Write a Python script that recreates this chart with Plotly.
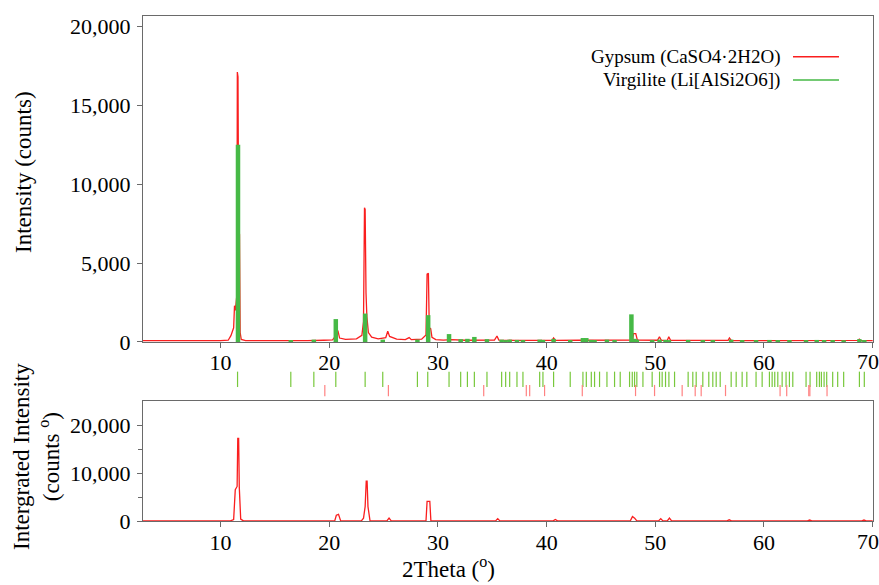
import plotly.graph_objects as go

# ---------------- data ----------------
x_ticks = [10, 20, 30, 40, 50, 60, 70]
x_tick_labels = ["10", "20", "30", "40", "50", "60", ""]   # "70" drawn as an annotation (kept inside page)
last_x_label = "70"
top_y_ticks = [0, 5000, 10000, 15000, 20000]
bottom_y_ticks = [0, 10000, 20000]

# Gypsum observed profile (2Theta, counts)
gyp_x = [2.86, 4.0, 5.0, 6.0, 7.0, 8.0, 9.0, 10.0, 10.7, 10.95, 11.05, 11.2, 11.28, 11.36, 11.5,
         11.54, 11.6, 11.66, 11.74, 11.8, 11.9, 12.3, 13.5, 15.0, 16.5, 18.0, 19.5, 20.3, 20.5,
         20.65, 20.8, 20.95, 21.5, 22.5, 23.0, 23.15, 23.24, 23.3, 23.38, 23.46, 23.6, 23.9, 24.5,
         25.2, 25.38, 25.55, 26.2, 27.0, 27.35, 27.55, 28.5, 28.9, 29.0, 29.12, 29.2, 29.33, 29.45,
         29.8, 30.5, 31.2, 32.5, 33.5, 35.2, 35.43, 35.6, 37.0, 39.0, 40.5, 40.64, 40.8, 43.0, 45.0,
         47.9, 48.0, 48.2, 48.35, 50.2, 50.38, 50.55, 51.1, 51.24, 51.4, 54.0, 56.7, 56.82, 57.0,
         60.0, 63.0, 66.0, 68.65, 68.77, 68.9, 70.0]
gyp_y = [80, 100, 70, 90, 80, 100, 80, 90, 110, 400, 650, 900, 2300, 2000, 3000,
         17100, 16800, 7200, 6800, 600, 160, 90, 80, 90, 100, 80, 110, 130, 300,
         750, 700, 250, 160, 200, 420, 1300, 8500, 8400, 3100, 1600, 600, 300, 200,
         280, 680, 350, 180, 150, 280, 150, 180, 450, 4300, 4350, 900, 850, 300,
         150, 120, 150, 110, 130, 120, 380, 120, 100, 100, 110, 260, 100, 110, 100,
         120, 530, 530, 120, 110, 330, 100, 100, 330, 100, 90, 100, 260, 90,
         90, 100, 90, 100, 180, 90, 90]

# Virgilite calculated peaks (2Theta, counts)
virg_x = [11.6, 16.46, 18.58, 20.6, 23.3, 24.92, 28.11, 29.1, 31.02, 32.09, 32.71, 33.35, 34.51,
          35.86, 36.23, 36.6, 37.27, 37.82, 39.36, 39.66, 40.64, 42.17, 43.34, 43.65, 44.11, 44.41,
          45.55, 46.25, 47.8, 48.09, 48.3, 49.71, 50.39, 50.94, 51.25, 53.02, 54.37, 55.29, 56.98,
          57.99, 59.27, 60.5, 61.27, 62.34, 63.87, 64.85, 65.53, 66.32, 67.33, 68.78, 69.23]
virg_y = [12500, 120, 150, 1450, 1800, 150, 150, 1700, 500, 180, 200, 320, 180,
          150, 120, 150, 130, 120, 150, 130, 200, 120, 250, 250, 130, 120,
          150, 120, 1750, 200, 150, 120, 150, 130, 120, 130, 120, 120, 150,
          120, 120, 130, 120, 120, 120, 130, 120, 120, 110, 180, 120]

# Reflection positions (2Theta)
virg_refl = [11.56, 16.46, 18.58, 20.6, 23.3, 24.92, 28.11, 29.06, 31.02, 32.09, 32.71, 33.35,
             34.51, 35.86, 36.23, 36.6, 37.27, 37.82, 39.36, 39.66, 40.64, 42.17, 43.34, 43.65,
             44.11, 44.41, 44.87, 45.55, 46.25, 46.77, 47.63, 47.88, 48.09, 48.3, 48.86, 49.71,
             50.39, 50.63, 50.94, 51.25, 51.77, 53.02, 53.45, 53.76, 54.37, 54.92, 55.29, 55.6,
             55.97, 56.98, 57.44, 57.99, 58.42, 59.27, 59.83, 60.5, 60.75, 60.99, 61.27, 61.67,
             62.03, 62.34, 62.65, 63.87, 64.24, 64.85, 65.1, 65.28, 65.53, 65.77, 66.32, 66.78,
             67.33, 68.78, 69.23]
gyp_refl = [19.59, 25.44, 34.21, 38.13, 38.44, 39.81, 43.28, 48.18, 49.93, 52.47, 53.67, 54.22,
            56.46, 61.48, 62.09, 64.12, 64.22, 65.8]

# Integrated intensity (2Theta, counts deg)
int_x = [2.86, 10.9, 11.2, 11.35, 11.52, 11.58, 11.66, 11.72, 11.85, 12.1, 20.5, 20.65, 20.85,
         21.05, 22.95, 23.15, 23.3, 23.4, 23.48, 23.56, 23.75, 25.3, 25.5, 25.7, 28.9, 29.0,
         29.25, 29.35, 35.3, 35.5, 35.7, 40.6, 40.8, 41.0, 47.7, 47.9, 48.1, 48.3, 50.3, 50.5,
         50.7, 51.1, 51.3, 51.5, 56.6, 56.8, 57.0, 64.0, 64.2, 64.4, 69.0, 69.2, 69.4, 70.0]
int_y = [20, 20, 300, 6500, 7200, 17200, 17200, 7000, 400, 20, 20, 1200, 1400,
         20, 20, 600, 3000, 8300, 8300, 3000, 20, 20, 600, 20, 20, 4100,
         4100, 20, 20, 500, 20, 20, 300, 20, 20, 950, 600, 20, 20, 500,
         20, 20, 600, 20, 20, 250, 20, 20, 200, 20, 20, 200, 20, 20]

legend_names = ["Gypsum (CaSO4\u00b72H2O)", "Virgilite (Li[AlSi2O6])"]

# ---------------- style ----------------
RED = "rgb(250,30,30)"
GREEN = "rgb(70,185,70)"
TICK_GREEN = "rgb(120,200,60)"
TICK_RED = "rgb(255,130,130)"
AXC = "#6a6a6a"
FONT = "Liberation Serif"

fig = go.Figure()

fig.add_trace(go.Scatter(x=gyp_x, y=gyp_y, mode="lines", line=dict(color=RED, width=1.3),
                         xaxis="x", yaxis="y", showlegend=False, name=legend_names[0]))

# Virgilite sticks as vertical segments built from the data
vx, vy = [], []
for px, py in zip(virg_x, virg_y):
    vx += [px, px, None]
    vy += [0, py, None]
fig.add_trace(go.Scatter(x=vx, y=vy, mode="lines", line=dict(color=GREEN, width=4.5),
                         xaxis="x", yaxis="y", showlegend=False, name=legend_names[1]))

# Reflection markers
fig.add_trace(go.Scatter(x=virg_refl, y=[0.68] * len(virg_refl), mode="markers",
                         marker=dict(symbol="line-ns", size=11, line=dict(color=TICK_GREEN, width=1.2)),
                         xaxis="x2", yaxis="y2", showlegend=False))
fig.add_trace(go.Scatter(x=gyp_refl, y=[0.25] * len(gyp_refl), mode="markers",
                         marker=dict(symbol="line-ns", size=8, line=dict(color=TICK_RED, width=1.2)),
                         xaxis="x2", yaxis="y2", showlegend=False))

fig.add_trace(go.Scatter(x=int_x, y=int_y, mode="lines", line=dict(color=RED, width=1.3),
                         xaxis="x3", yaxis="y3", showlegend=False))

XR = [2.86, 70.03]
tickfont = dict(family=FONT, size=22, color="black")
common_x = dict(range=XR, showgrid=False, zeroline=False, showline=True, linecolor=AXC, linewidth=1.2,
                mirror=True, ticks="outside", ticklen=5, tickcolor=AXC, tickvals=x_ticks,
                ticktext=x_tick_labels, tickfont=tickfont, automargin=False,
                ticklabeloverflow="allow", ticklabelstandoff=-4)
common_y = dict(showgrid=False, zeroline=False, showline=True, linecolor=AXC, linewidth=1.2,
                mirror=True, ticks="outside", ticklen=5, tickcolor=AXC, tickformat=",",
                tickfont=tickfont, automargin=False, ticklabeloverflow="allow",
                ticklabelstandoff=2)

fig.update_layout(
    width=879, height=585,
    margin=dict(l=143, r=6, t=16, b=64, autoexpand=False),
    paper_bgcolor="white", plot_bgcolor="white",
    showlegend=False,
    xaxis=dict(domain=[0, 1], anchor="y", **common_x),
    yaxis=dict(domain=[0.3545, 1], range=[0, 20650], anchor="x", tickvals=top_y_ticks, **common_y),
    xaxis2=dict(domain=[0, 1], anchor="y2", range=XR, visible=False, automargin=False),
    yaxis2=dict(domain=[0.2455, 0.297], range=[0, 1], anchor="x2", visible=False, automargin=False),
    xaxis3=dict(domain=[0, 1], anchor="y3", **common_x),
    yaxis3=dict(domain=[0, 0.2376], range=[0, 25000], anchor="x3", tickvals=bottom_y_ticks,
                minor=dict(tickvals=[5000, 15000], ticks="outside", ticklen=4, tickcolor=AXC),
                **common_y),
)

# last x tick label of each panel, nudged left so it stays inside the page
for xr, ypos in (("x", 0.3168), ("x3", -0.040)):
    fig.add_annotation(text=last_x_label, xref=xr, yref="paper", x=x_ticks[-1], y=ypos,
                       xshift=-5, showarrow=False, font=tickfont, xanchor="center", yanchor="middle")

title_font = dict(family=FONT, size=23, color="black")
fig.add_annotation(text="Intensity (counts)", xref="paper", yref="paper", x=-0.1644, y=0.691,
                   textangle=-90, showarrow=False, font=title_font, xanchor="center", yanchor="middle")
fig.add_annotation(text="Intergrated Intensity<br>(counts <sup>o</sup>)", xref="paper", yref="paper",
                   x=-0.1466, y=0.1287, textangle=-90, showarrow=False, font=title_font,
                   xanchor="center", yanchor="middle")
fig.add_annotation(text="2Theta (<sup>o</sup>)", xref="paper", yref="paper", x=0.418, y=-0.093,
                   showarrow=False, font=title_font, xanchor="center", yanchor="middle")

# Legend (text followed by line sample)
leg_font = dict(family=FONT, size=19, color="black")
for name, col, yy in zip(legend_names, [RED, GREEN], [0.9194, 0.8733]):
    fig.add_annotation(text=name, xref="paper", yref="paper", x=0.8753, y=yy, showarrow=False,
                       font=leg_font, xanchor="right", yanchor="middle")
    fig.add_shape(type="line", xref="paper", yref="paper", x0=0.8904, x1=0.9534, y0=yy, y1=yy,
                  line=dict(color=col, width=1.5))

fig.write_html("out.html", config={"displayModeBar": False},
               post_script="document.body.style.margin='0px';document.body.style.overflow='hidden';")
